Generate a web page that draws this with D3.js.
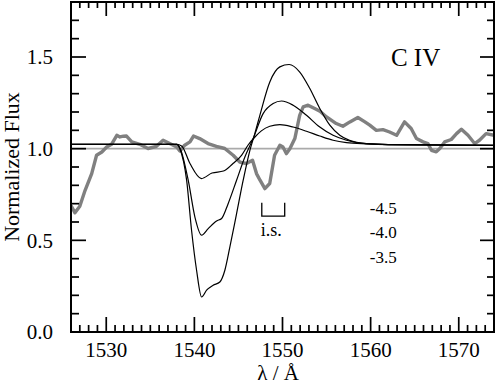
<!DOCTYPE html>
<html>
<head>
<meta charset="utf-8">
<script src="https://cdn.jsdelivr.net/npm/d3@7"></script>
<style>
  body { margin: 0; background: #fff; }
  svg text { font-family: "Liberation Serif", "Times New Roman", serif; }
</style>
</head>
<body>
<div id="chart"></div>
<script>
// C IV profile: observed spectrum (grey) and three wind models (black)

// observed spectrum [wavelength, flux]
const observed = [
  [1526.0, 0.69], [1526.45, 0.65], [1527.0, 0.686], [1527.6, 0.773], [1528.35, 0.864],
  [1528.9, 0.964], [1529.5, 0.982], [1530.05, 1.009], [1530.6, 1.024], [1531.2, 1.073],
  [1531.55, 1.064], [1531.95, 1.068], [1532.3, 1.069], [1532.9, 1.037], [1533.8, 1.024],
  [1534.75, 1.001], [1535.7, 1.013], [1536.45, 1.046], [1537.2, 1.028], [1538.0, 1.009],
  [1538.35, 0.987], [1538.9, 1.019], [1539.5, 1.037], [1539.9, 1.069], [1540.6, 1.055],
  [1541.55, 1.028], [1542.5, 1.013], [1543.45, 1.001], [1544.4, 0.964], [1545.15, 0.927],
  [1545.9, 0.919], [1546.6, 0.937], [1547.05, 0.864], [1547.45, 0.828], [1548.0, 0.782],
  [1548.55, 0.81], [1549.1, 0.964], [1549.7, 1.019], [1550.05, 1.009], [1550.45, 0.973],
  [1550.85, 1.001], [1551.4, 1.055], [1551.95, 1.182], [1552.35, 1.228], [1552.9, 1.237],
  [1553.65, 1.219], [1554.25, 1.204], [1555.0, 1.173], [1556.1, 1.137], [1556.85, 1.122],
  [1557.65, 1.146], [1558.55, 1.17], [1559.35, 1.146], [1559.9, 1.128], [1560.65, 1.1],
  [1561.4, 1.104], [1562.15, 1.091], [1562.95, 1.073], [1563.85, 1.146], [1564.6, 1.11],
  [1565.2, 1.055], [1565.95, 1.037], [1566.5, 1.028], [1566.9, 0.991], [1567.45, 0.983],
  [1567.85, 1.001], [1568.4, 1.037], [1569.15, 1.05], [1569.75, 1.082], [1570.3, 1.106],
  [1571.05, 1.073], [1571.8, 1.028], [1572.35, 1.046], [1573.1, 1.082], [1574.0, 1.073]
];

// model, log mass-loss -4.5
const model45 = [
  [1526.0, 1.023], [1538.0, 1.023], [1538.55, 1.015], [1539.5, 0.919], [1540.8, 0.837],
  [1542.0, 0.867], [1543.3, 0.878], [1544.3, 0.915], [1545.35, 0.964], [1546.1, 1.02],
  [1546.9, 1.065], [1547.6, 1.097], [1548.56, 1.122], [1549.7, 1.131], [1551.2, 1.118],
  [1552.72, 1.095], [1554.23, 1.069], [1555.74, 1.046], [1557.26, 1.033], [1559.5, 1.026],
  [1562.0, 1.022], [1574.0, 1.018]
];

// model, log mass-loss -4.0
const model40 = [
  [1526.0, 1.023], [1538.0, 1.023], [1538.4, 1.0], [1539.3, 0.828], [1540.06, 0.627],
  [1540.82, 0.528], [1541.57, 0.564], [1542.52, 0.606], [1543.09, 0.619], [1543.83, 0.7],
  [1544.79, 0.828], [1545.73, 0.955], [1546.67, 1.055], [1547.8, 1.191], [1548.94, 1.246],
  [1549.89, 1.26], [1551.2, 1.237], [1552.72, 1.182], [1554.23, 1.118], [1555.74, 1.073],
  [1557.26, 1.046], [1559.5, 1.027], [1562.0, 1.022], [1574.0, 1.018]
];

// model, log mass-loss -3.5
const model35 = [
  [1526.0, 1.023], [1538.0, 1.023], [1538.35, 1.0], [1539.12, 0.828], [1539.68, 0.555],
  [1540.25, 0.337], [1540.82, 0.191], [1541.39, 0.228], [1542.13, 0.255], [1542.89, 0.273],
  [1543.46, 0.337], [1544.03, 0.464], [1544.79, 0.646], [1545.54, 0.828], [1546.3, 0.991],
  [1546.86, 1.082], [1547.43, 1.182], [1548.56, 1.364], [1549.7, 1.446], [1550.75, 1.459],
  [1551.96, 1.418], [1553.1, 1.328], [1554.23, 1.219], [1555.37, 1.128], [1556.5, 1.073],
  [1557.6, 1.045], [1559.5, 1.027], [1562.0, 1.022], [1574.0, 1.018]
];

const modelLabels = ["-4.5", "-4.0", "-3.5"];
const xTicks = [1530, 1540, 1550, 1560, 1570];
const yTicks = [0.0, 0.5, 1.0, 1.5];
const isBracket = [1547.65, 1550.25];

const W = 497, H = 384;
const margin = { top: 2, right: 3, bottom: 52, left: 71 };
const width = W - margin.left - margin.right;
const height = H - margin.top - margin.bottom;

const svg = d3.select("#chart").append("svg")
    .attr("width", W)
    .attr("height", H);

const g = svg.append("g")
    .attr("transform", `translate(${margin.left},${margin.top})`);

const x = d3.scaleLinear().domain([1526, 1574]).range([0, width]);
const y = d3.scaleLinear().domain([0, 1.8]).range([height, 0]);

g.append("clipPath").attr("id", "clip")
  .append("rect").attr("width", width).attr("height", height);

const plot = g.append("g").attr("clip-path", "url(#clip)");

// continuum reference
plot.append("line")
    .attr("x1", 0).attr("x2", width)
    .attr("y1", y(1)).attr("y2", y(1))
    .attr("stroke", "#aaaaaa")
    .attr("stroke-width", 1.6);

const lineObs = d3.line().x(d => x(d[0])).y(d => y(d[1]));
const lineMod = d3.line().x(d => x(d[0])).y(d => y(d[1])).curve(d3.curveMonotoneX);

plot.append("path")
    .attr("d", lineObs(observed))
    .attr("fill", "none")
    .attr("stroke", "#808080")
    .attr("stroke-width", 3.4)
    .attr("stroke-linejoin", "round");

[model45, model40, model35].forEach(m => {
  plot.append("path")
      .attr("d", lineMod(m))
      .attr("fill", "none")
      .attr("stroke", "#000")
      .attr("stroke-width", 1.2);
});

// ticks, all pointing inward, drawn as thin filled bars
const minorX = d3.range(1527, 1574, 1).filter(v => v % 10 !== 0);
const minorY = d3.range(1, 18).map(v => v / 10).filter(v => Math.round(v * 10) % 5 !== 0);

const xTickData = xTicks.map(v => ({ v, len: 15 })).concat(minorX.map(v => ({ v, len: 7 })));
const yTickData = yTicks.map(v => ({ v, len: 15 })).concat(minorY.map(v => ({ v, len: 8 })));

const tw = 1.7;
const tickLayer = g.append("g").attr("fill", "#000");

tickLayer.selectAll(".xtb")
  .data(xTickData)
  .join("rect")
    .attr("class", "xtb")
    .attr("x", d => x(d.v) - tw / 2)
    .attr("y", d => height - d.len)
    .attr("width", tw)
    .attr("height", d => d.len);

tickLayer.selectAll(".xtt")
  .data(xTickData)
  .join("rect")
    .attr("class", "xtt")
    .attr("x", d => x(d.v) - tw / 2)
    .attr("y", 0)
    .attr("width", tw)
    .attr("height", d => d.len - 1);

tickLayer.selectAll(".ytl")
  .data(yTickData)
  .join("rect")
    .attr("class", "ytl")
    .attr("x", 0)
    .attr("y", d => y(d.v) - tw / 2)
    .attr("width", d => d.len)
    .attr("height", tw);

tickLayer.selectAll(".ytr")
  .data(yTickData)
  .join("rect")
    .attr("class", "ytr")
    .attr("x", d => width - d.len + 1)
    .attr("y", d => y(d.v) - tw / 2)
    .attr("width", d => d.len - 1)
    .attr("height", tw);

// frame
g.append("rect")
    .attr("width", width).attr("height", height)
    .attr("fill", "none")
    .attr("stroke", "#000")
    .attr("stroke-width", 2);

// tick labels
g.selectAll(".xl")
  .data(xTicks)
  .join("text")
    .attr("class", "xl")
    .attr("x", d => x(d))
    .attr("y", height + 25)
    .attr("text-anchor", "middle")
    .attr("font-size", 21)
    .text(d3.format("d"));

g.selectAll(".yl")
  .data(yTicks)
  .join("text")
    .attr("class", "yl")
    .attr("x", -18)
    .attr("y", d => y(d))
    .attr("dy", "0.35em")
    .attr("text-anchor", "end")
    .attr("font-size", 21)
    .text(d3.format(".1f"));

// axis titles
svg.append("text")
    .attr("transform", `translate(${19},${margin.top + y(0.9)}) rotate(-90)`)
    .attr("text-anchor", "middle")
    .attr("font-size", 22)
    .text("Normalized Flux");

svg.append("text")
    .attr("x", margin.left + x(1549.5))
    .attr("y", 380)
    .attr("text-anchor", "middle")
    .attr("font-size", 21)
    .text("λ / Å");

// ion label
g.append("text")
    .attr("x", x(1562.3))
    .attr("y", y(1.45))
    .attr("font-size", 25)
    .text("C IV");

// interstellar bracket
const bY0 = y(0.705), bY1 = y(0.632);
g.append("path")
    .attr("d", `M${x(isBracket[0])},${bY0}V${bY1}H${x(isBracket[1])}V${bY0}`)
    .attr("fill", "none")
    .attr("stroke", "#000")
    .attr("stroke-width", 1.3);
g.append("text")
    .attr("x", x(isBracket[0]) - 1)
    .attr("y", bY1 + 20)
    .attr("font-size", 18)
    .text("i.s.");

// model labels
g.selectAll(".mlab")
  .data(modelLabels)
  .join("text")
    .attr("class", "mlab")
    .attr("x", x(1559.9))
    .attr("y", (d, i) => y(0.645) + i * 24.5)
    .attr("font-size", 17)
    .text(d => d);
</script>
</body>
</html>
